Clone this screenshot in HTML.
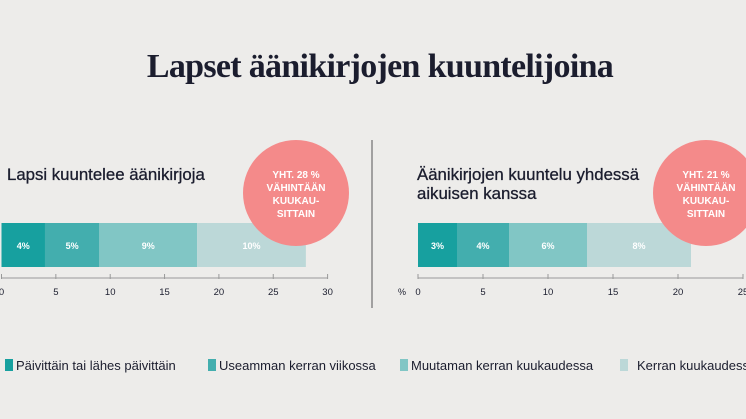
<!DOCTYPE html>
<html><head><meta charset="utf-8"><style>
body{margin:0;background:#edecea;width:746px;height:419px;overflow:hidden;font-family:"Liberation Sans",sans-serif}
svg{display:block}
</style></head><body>
<svg width="746" height="419">
<text x="380" y="77" text-anchor="middle" font-family="Liberation Serif,serif" font-weight="bold" font-size="34" fill="#1b1d2e" letter-spacing="-0.7">Lapset äänikirjojen kuuntelijoina</text>
<line x1="372" y1="140" x2="372" y2="308" stroke="#555" stroke-width="1"/>
<text x="7" y="180" font-size="16.8" fill="#1b1d2e" stroke="#1b1d2e" stroke-width="0.3">Lapsi kuuntelee äänikirjoja</text>
<text x="417" y="180" font-size="16.8" fill="#1b1d2e" stroke="#1b1d2e" stroke-width="0.3">Äänikirjojen kuuntelu yhdessä</text>
<text x="417" y="199" font-size="16.8" fill="#1b1d2e" stroke="#1b1d2e" stroke-width="0.3">aikuisen kanssa</text>
<text x="398" y="295" font-size="9" fill="#1b1d2e">%</text>
<g id="left"></g><g id="right"></g>
<g id="legend"></g>
</svg>
<script>
const categories=["Päivittäin tai lähes päivittäin","Useamman kerran viikossa","Muutaman kerran kuukaudessa","Kerran kuukaudessa"];
const leftValues=[4,5,9,10];
const rightValues=[3,4,6,8];
const leftTicks=[0,5,10,15,20,25,30];
const rightTicks=[0,5,10,15,20,25];
const leftTotal="YHT. 28 %";
const rightTotal="YHT. 21 %";
const colors=["#17a09f","#43aeae","#81c6c5","#bcd8d8"];
const NS="http://www.w3.org/2000/svg";
function mk(t,a,p){const e=document.createElementNS(NS,t);for(const k in a)e.setAttribute(k,a[k]);p.appendChild(e);return e;}
function draw(g,vals,ticks,x0,pxPer,total,cx,side){
  const xs=v=>x0+v*pxPer;
  let acc=0;
  vals.forEach((v,i)=>{
    const r=mk('rect',{x:xs(acc),y:223,width:v*pxPer,height:44,fill:colors[i]},g);
    
    
    const t=mk('text',{x:xs(acc+v/2),y:249,'text-anchor':'middle','font-size':'9','font-weight':'bold',fill:'#fff'},g);
    t.textContent=v+'%';
    
    
    acc+=v;
  });
  const ax=mk('line',{x1:xs(0),y1:278,x2:xs(ticks[ticks.length-1]),y2:278,stroke:'#999','stroke-width':1},g);
  
  
  ticks.forEach(tv=>{
    const l=mk('line',{x1:xs(tv),y1:274,x2:xs(tv),y2:279,stroke:'#999'},g);
    
    
    const t=mk('text',{x:xs(tv),y:295,'text-anchor':'middle','font-size':'9.5',fill:'#1b1d2e'},g);
    t.textContent=tv;
    
    
  });
  const c=mk('circle',{cx:cx,cy:193,r:53,fill:'#f48a8a'},g);
  
  
  [total,'VÄHINTÄÄN','KUUKAU-','SITTAIN'].forEach((s,i)=>{
    const t=mk('text',{x:cx,y:178+i*13,'text-anchor':'middle','font-size':'10','font-weight':'bold',fill:'#fff'},g);
    t.textContent=s;
    
    
  });
}
draw(document.getElementById('left'),leftValues,leftTicks,1.5,10.87,leftTotal,296,'left');
draw(document.getElementById('right'),rightValues,rightTicks,418,13.0,rightTotal,706,'right');
const lg=document.getElementById('legend');
const lx=[5,208,400,620];
categories.forEach((c,i)=>{
  const r=mk('rect',{x:lx[i],y:359,width:8,height:12,fill:colors[i]},lg);
  
  
  const t=mk('text',{x:lx[i]+11+(i==3?6:0),y:370,'font-size':'13',fill:'#1b1d2e'},lg);
  t.textContent=c;
  
  
});
</script>
</body></html>
